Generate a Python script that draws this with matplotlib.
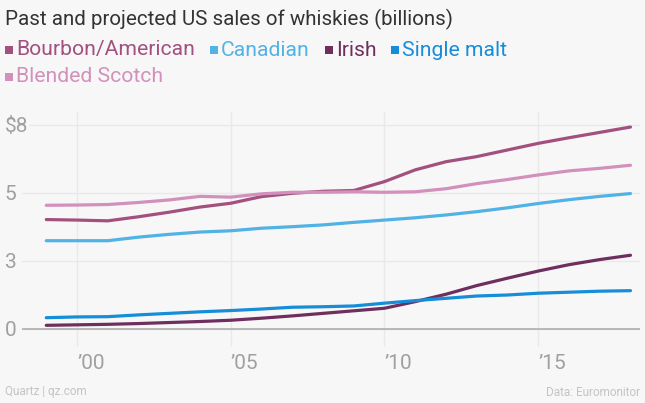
import matplotlib
matplotlib.use("Agg")
import matplotlib.pyplot as plt
from matplotlib.patches import Rectangle

# data (billions of US$)
years = list(range(1999, 2019))
bourbon = [4.29, 4.27, 4.24, 4.40, 4.58, 4.78, 4.93, 5.19, 5.32, 5.40,
           5.43, 5.78, 6.24, 6.56, 6.76, 7.02, 7.28, 7.50, 7.71, 7.92]
canadian = [3.46, 3.46, 3.46, 3.60, 3.71, 3.80, 3.85, 3.95, 4.01, 4.08,
            4.18, 4.27, 4.36, 4.47, 4.60, 4.75, 4.92, 5.07, 5.20, 5.31]
irish = [0.14, 0.16, 0.18, 0.21, 0.25, 0.29, 0.34, 0.42, 0.51, 0.61,
         0.71, 0.81, 1.07, 1.36, 1.70, 1.99, 2.27, 2.52, 2.72, 2.89]
single_malt = [0.44, 0.47, 0.48, 0.55, 0.61, 0.67, 0.72, 0.78, 0.85, 0.87,
               0.90, 1.01, 1.11, 1.20, 1.29, 1.33, 1.40, 1.44, 1.48, 1.50]
blended = [4.85, 4.86, 4.88, 4.96, 5.06, 5.20, 5.17, 5.30, 5.36, 5.36,
           5.38, 5.36, 5.38, 5.50, 5.70, 5.86, 6.04, 6.20, 6.30, 6.42]

names = ["Bourbon/American", "Canadian", "Irish", "Single malt", "Blended Scotch"]
values = [bourbon, canadian, irish, single_malt, blended]
colors = ["#a3507f", "#51b2e5", "#6e2f5e", "#168dd9", "#d290bc"]

xticks = [2000, 2005, 2010, 2015]
xlabels = ["\u201900", "\u201905", "\u201910", "\u201915"]
yticks = [0, 8 / 3, 16 / 3, 8]
ylabels = ["0", "3", "5", "$8"]

bg = "#f7f7f7"
plt.rcParams["font.family"] = ["Roboto", "DejaVu Sans"]

W, H = 645, 403
fig = plt.figure(figsize=(W / 100, H / 100), dpi=100)
fig.patch.set_facecolor(bg)

ax = fig.add_axes([22 / W, 1 - 347 / H, (640 - 22) / W, (347 - 112) / H])
ax.set_facecolor(bg)

for vals, c in zip(values, colors):
    ax.plot(years, vals, color=c, lw=2.3, solid_capstyle="round", zorder=3)

ax.set_xlim(1998.21, 2018.31)
ax.set_ylim(-0.71, 8.51)
ax.axhline(0, color="#a8a8a8", lw=1.1, zorder=2)

ax.set_xticks(xticks)
ax.set_xticklabels(xlabels, ha="left")
ax.set_yticks(yticks)
ax.set_yticklabels(ylabels, ha="left")
ax.tick_params(axis="x", length=0, pad=5, labelsize=15, labelcolor="#a0a0a0")
ax.tick_params(axis="y", length=0, pad=12.5, labelsize=15, labelcolor="#a0a0a0")
for lab in ax.get_yticklabels():
    lab.set_bbox(dict(fc=bg, ec="none", pad=1))
ax.grid(True, color="#e9e9e9", lw=1, zorder=1)
for s in ax.spines.values():
    s.set_visible(False)

fig.text(5 / W, 1 - 19 / H, "Past and projected US sales of whiskies (billions)",
         fontsize=14.8, color="#333333", va="center", ha="left")

# legend with wrapping
fig.canvas.draw()
renderer = fig.canvas.get_renderer()
x, row_y = 5, 50
for name, c in zip(names, colors):
    t = fig.text(0, 0, name, fontsize=15.2, color=c, va="center", ha="left")
    tw = t.get_window_extent(renderer).width
    if x + 12 + tw > 640:
        x = 5
        row_y += 27
    fig.patches.append(Rectangle(((x) / W, 1 - (row_y + 4) / H), 8 / W, 8 / H,
                                 transform=fig.transFigure, fc=c, ec="none"))
    t.set_position(((x + 11) / W, 1 - row_y / H))
    x += 11 + tw + 15

fig.text(5 / W, 1 - 392 / H, "Quartz | qz.com", fontsize=8.5, color="#c4c4c4",
         va="center", ha="left")
fig.text(640 / W, 1 - 392 / H, "Data: Euromonitor", fontsize=8.5, color="#c4c4c4",
         va="center", ha="right")

fig.savefig("out.png", dpi=100, facecolor=bg)
